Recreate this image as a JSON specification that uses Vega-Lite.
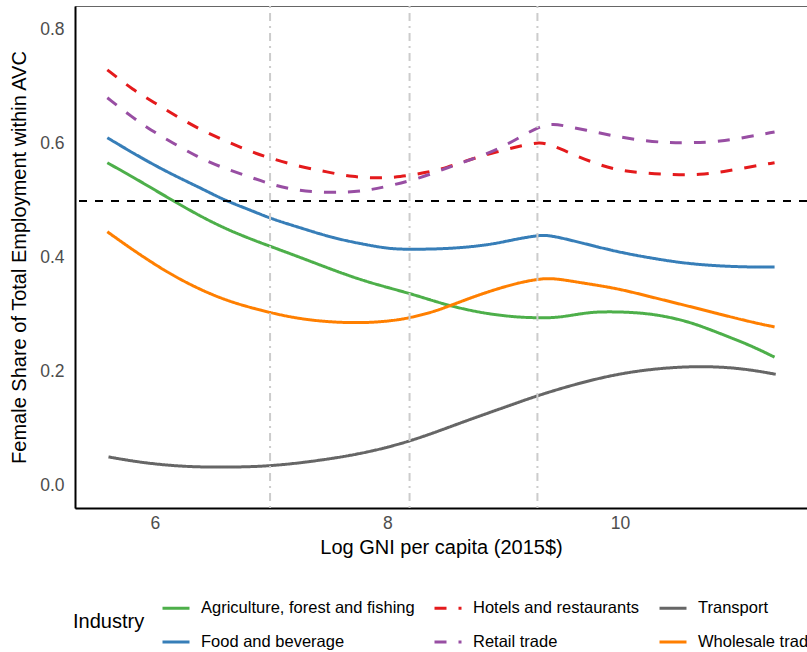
{
  "$schema": "https://vega.github.io/schema/vega-lite/v6.json",
  "autosize": {"type": "none"},
  "padding": {"left": 75, "top": 6, "right": 0, "bottom": 144},
  "width": 732,
  "height": 502,
  "background": "white",
  "config": {
    "font": "Liberation Sans",
    "view": {"stroke": "#666666", "strokeWidth": 1},
    "axis": {
      "grid": false,
      "ticks": false,
      "domainColor": "black",
      "domainWidth": 2,
      "labelFont": "Liberation Sans",
      "labelFontSize": 17.5,
      "labelColor": "#4d4d4d",
      "titleFont": "Liberation Sans",
      "titleFontSize": 20,
      "titleFontWeight": "normal",
      "titleColor": "black"
    },
    "legend": {
      "labelFont": "Liberation Sans",
      "labelFontSize": 16.5,
      "labelColor": "black",
      "labelLimit": 0,
      "titleFont": "Liberation Sans",
      "titleFontSize": 20,
      "titleFontWeight": "normal",
      "titleColor": "black"
    }
  },
  "datasets": {
    "curves": [
      {"industry": "Hotels and restaurants", "x": 5.59, "y": 0.730},
      {"industry": "Hotels and restaurants", "x": 5.81, "y": 0.695},
      {"industry": "Hotels and restaurants", "x": 6.0, "y": 0.672},
      {"industry": "Hotels and restaurants", "x": 6.19, "y": 0.648},
      {"industry": "Hotels and restaurants", "x": 6.39, "y": 0.625},
      {"industry": "Hotels and restaurants", "x": 6.59, "y": 0.607},
      {"industry": "Hotels and restaurants", "x": 6.79, "y": 0.589},
      {"industry": "Hotels and restaurants", "x": 6.99, "y": 0.575},
      {"industry": "Hotels and restaurants", "x": 7.25, "y": 0.560},
      {"industry": "Hotels and restaurants", "x": 7.48, "y": 0.551},
      {"industry": "Hotels and restaurants", "x": 7.70, "y": 0.542},
      {"industry": "Hotels and restaurants", "x": 7.91, "y": 0.540},
      {"industry": "Hotels and restaurants", "x": 8.11, "y": 0.542},
      {"industry": "Hotels and restaurants", "x": 8.31, "y": 0.549},
      {"industry": "Hotels and restaurants", "x": 8.51, "y": 0.558},
      {"industry": "Hotels and restaurants", "x": 8.74, "y": 0.575},
      {"industry": "Hotels and restaurants", "x": 8.94, "y": 0.586},
      {"industry": "Hotels and restaurants", "x": 9.17, "y": 0.598},
      {"industry": "Hotels and restaurants", "x": 9.31, "y": 0.603},
      {"industry": "Hotels and restaurants", "x": 9.40, "y": 0.599},
      {"industry": "Hotels and restaurants", "x": 9.57, "y": 0.584},
      {"industry": "Hotels and restaurants", "x": 9.77, "y": 0.567},
      {"industry": "Hotels and restaurants", "x": 9.97, "y": 0.554},
      {"industry": "Hotels and restaurants", "x": 10.20, "y": 0.549},
      {"industry": "Hotels and restaurants", "x": 10.46, "y": 0.546},
      {"industry": "Hotels and restaurants", "x": 10.69, "y": 0.546},
      {"industry": "Hotels and restaurants", "x": 10.89, "y": 0.551},
      {"industry": "Hotels and restaurants", "x": 11.12, "y": 0.560},
      {"industry": "Hotels and restaurants", "x": 11.33, "y": 0.567},

      {"industry": "Retail trade", "x": 5.59, "y": 0.681},
      {"industry": "Retail trade", "x": 5.81, "y": 0.646},
      {"industry": "Retail trade", "x": 5.96, "y": 0.625},
      {"industry": "Retail trade", "x": 6.15, "y": 0.602},
      {"industry": "Retail trade", "x": 6.37, "y": 0.577},
      {"industry": "Retail trade", "x": 6.56, "y": 0.560},
      {"industry": "Retail trade", "x": 6.76, "y": 0.546},
      {"industry": "Retail trade", "x": 6.97, "y": 0.531},
      {"industry": "Retail trade", "x": 7.19, "y": 0.519},
      {"industry": "Retail trade", "x": 7.42, "y": 0.515},
      {"industry": "Retail trade", "x": 7.65, "y": 0.515},
      {"industry": "Retail trade", "x": 7.85, "y": 0.519},
      {"industry": "Retail trade", "x": 8.05, "y": 0.528},
      {"industry": "Retail trade", "x": 8.28, "y": 0.540},
      {"industry": "Retail trade", "x": 8.51, "y": 0.558},
      {"industry": "Retail trade", "x": 8.71, "y": 0.572},
      {"industry": "Retail trade", "x": 8.94, "y": 0.589},
      {"industry": "Retail trade", "x": 9.14, "y": 0.612},
      {"industry": "Retail trade", "x": 9.31, "y": 0.631},
      {"industry": "Retail trade", "x": 9.42, "y": 0.636},
      {"industry": "Retail trade", "x": 9.57, "y": 0.630},
      {"industry": "Retail trade", "x": 9.83, "y": 0.619},
      {"industry": "Retail trade", "x": 10.0, "y": 0.612},
      {"industry": "Retail trade", "x": 10.23, "y": 0.605},
      {"industry": "Retail trade", "x": 10.43, "y": 0.602},
      {"industry": "Retail trade", "x": 10.63, "y": 0.602},
      {"industry": "Retail trade", "x": 10.86, "y": 0.604},
      {"industry": "Retail trade", "x": 11.09, "y": 0.612},
      {"industry": "Retail trade", "x": 11.33, "y": 0.621},

      {"industry": "Food and beverage", "x": 5.59, "y": 0.611},
      {"industry": "Food and beverage", "x": 5.81, "y": 0.584},
      {"industry": "Food and beverage", "x": 6.10, "y": 0.551},
      {"industry": "Food and beverage", "x": 6.39, "y": 0.523},
      {"industry": "Food and beverage", "x": 6.59, "y": 0.502},
      {"industry": "Food and beverage", "x": 6.82, "y": 0.484},
      {"industry": "Food and beverage", "x": 7.01, "y": 0.468},
      {"industry": "Food and beverage", "x": 7.25, "y": 0.453},
      {"industry": "Food and beverage", "x": 7.53, "y": 0.435},
      {"industry": "Food and beverage", "x": 7.82, "y": 0.423},
      {"industry": "Food and beverage", "x": 8.02, "y": 0.416},
      {"industry": "Food and beverage", "x": 8.19, "y": 0.415},
      {"industry": "Food and beverage", "x": 8.54, "y": 0.416},
      {"industry": "Food and beverage", "x": 8.88, "y": 0.423},
      {"industry": "Food and beverage", "x": 9.08, "y": 0.432},
      {"industry": "Food and beverage", "x": 9.30, "y": 0.440},
      {"industry": "Food and beverage", "x": 9.40, "y": 0.440},
      {"industry": "Food and beverage", "x": 9.68, "y": 0.426},
      {"industry": "Food and beverage", "x": 9.97, "y": 0.411},
      {"industry": "Food and beverage", "x": 10.26, "y": 0.400},
      {"industry": "Food and beverage", "x": 10.54, "y": 0.391},
      {"industry": "Food and beverage", "x": 10.83, "y": 0.386},
      {"industry": "Food and beverage", "x": 11.12, "y": 0.384},
      {"industry": "Food and beverage", "x": 11.33, "y": 0.384},

      {"industry": "Agriculture, forest and fishing", "x": 5.59, "y": 0.567},
      {"industry": "Agriculture, forest and fishing", "x": 5.81, "y": 0.542},
      {"industry": "Agriculture, forest and fishing", "x": 6.10, "y": 0.507},
      {"industry": "Agriculture, forest and fishing", "x": 6.39, "y": 0.473},
      {"industry": "Agriculture, forest and fishing", "x": 6.67, "y": 0.445},
      {"industry": "Agriculture, forest and fishing", "x": 7.01, "y": 0.419},
      {"industry": "Agriculture, forest and fishing", "x": 7.25, "y": 0.401},
      {"industry": "Agriculture, forest and fishing", "x": 7.53, "y": 0.379},
      {"industry": "Agriculture, forest and fishing", "x": 7.82, "y": 0.358},
      {"industry": "Agriculture, forest and fishing", "x": 8.19, "y": 0.338},
      {"industry": "Agriculture, forest and fishing", "x": 8.39, "y": 0.325},
      {"industry": "Agriculture, forest and fishing", "x": 8.56, "y": 0.315},
      {"industry": "Agriculture, forest and fishing", "x": 8.82, "y": 0.303},
      {"industry": "Agriculture, forest and fishing", "x": 9.11, "y": 0.296},
      {"industry": "Agriculture, forest and fishing", "x": 9.30, "y": 0.295},
      {"industry": "Agriculture, forest and fishing", "x": 9.46, "y": 0.295},
      {"industry": "Agriculture, forest and fishing", "x": 9.68, "y": 0.303},
      {"industry": "Agriculture, forest and fishing", "x": 9.83, "y": 0.306},
      {"industry": "Agriculture, forest and fishing", "x": 10.11, "y": 0.305},
      {"industry": "Agriculture, forest and fishing", "x": 10.34, "y": 0.300},
      {"industry": "Agriculture, forest and fishing", "x": 10.60, "y": 0.288},
      {"industry": "Agriculture, forest and fishing", "x": 10.83, "y": 0.270},
      {"industry": "Agriculture, forest and fishing", "x": 11.12, "y": 0.247},
      {"industry": "Agriculture, forest and fishing", "x": 11.33, "y": 0.226},

      {"industry": "Wholesale trade", "x": 5.59, "y": 0.446},
      {"industry": "Wholesale trade", "x": 5.81, "y": 0.414},
      {"industry": "Wholesale trade", "x": 6.10, "y": 0.375},
      {"industry": "Wholesale trade", "x": 6.39, "y": 0.344},
      {"industry": "Wholesale trade", "x": 6.67, "y": 0.321},
      {"industry": "Wholesale trade", "x": 7.01, "y": 0.303},
      {"industry": "Wholesale trade", "x": 7.25, "y": 0.293},
      {"industry": "Wholesale trade", "x": 7.53, "y": 0.287},
      {"industry": "Wholesale trade", "x": 7.82, "y": 0.286},
      {"industry": "Wholesale trade", "x": 8.05, "y": 0.290},
      {"industry": "Wholesale trade", "x": 8.19, "y": 0.295},
      {"industry": "Wholesale trade", "x": 8.39, "y": 0.305},
      {"industry": "Wholesale trade", "x": 8.56, "y": 0.318},
      {"industry": "Wholesale trade", "x": 8.82, "y": 0.338},
      {"industry": "Wholesale trade", "x": 9.11, "y": 0.356},
      {"industry": "Wholesale trade", "x": 9.30, "y": 0.363},
      {"industry": "Wholesale trade", "x": 9.42, "y": 0.365},
      {"industry": "Wholesale trade", "x": 9.68, "y": 0.356},
      {"industry": "Wholesale trade", "x": 9.97, "y": 0.347},
      {"industry": "Wholesale trade", "x": 10.26, "y": 0.332},
      {"industry": "Wholesale trade", "x": 10.54, "y": 0.318},
      {"industry": "Wholesale trade", "x": 10.83, "y": 0.303},
      {"industry": "Wholesale trade", "x": 11.12, "y": 0.288},
      {"industry": "Wholesale trade", "x": 11.33, "y": 0.279},

      {"industry": "Transport", "x": 5.60, "y": 0.051},
      {"industry": "Transport", "x": 5.91, "y": 0.040},
      {"industry": "Transport", "x": 6.30, "y": 0.033},
      {"industry": "Transport", "x": 6.69, "y": 0.033},
      {"industry": "Transport", "x": 7.02, "y": 0.035},
      {"industry": "Transport", "x": 7.47, "y": 0.046},
      {"industry": "Transport", "x": 7.86, "y": 0.060},
      {"industry": "Transport", "x": 8.24, "y": 0.081},
      {"industry": "Transport", "x": 8.63, "y": 0.111},
      {"industry": "Transport", "x": 9.02, "y": 0.139},
      {"industry": "Transport", "x": 9.35, "y": 0.163},
      {"industry": "Transport", "x": 9.80, "y": 0.189},
      {"industry": "Transport", "x": 10.19, "y": 0.204},
      {"industry": "Transport", "x": 10.65, "y": 0.211},
      {"industry": "Transport", "x": 11.04, "y": 0.207},
      {"industry": "Transport", "x": 11.34, "y": 0.196}
    ],
    "thresholds": [
      {"x": 6.99},
      {"x": 8.19},
      {"x": 9.29}
    ]
  },
  "layer": [
    {
      "data": {"name": "curves"},
      "mark": {"type": "line", "strokeWidth": 3, "interpolate": "basis", "strokeCap": "butt"},
      "encoding": {
        "x": {
          "field": "x", "type": "quantitative",
          "scale": {"domain": [5.312, 11.609], "nice": false, "zero": false},
          "axis": {"title": "Log GNI per capita (2015$)", "values": [6, 8, 10], "format": "d", "labelPadding": 6, "titlePadding": 6}
        },
        "y": {
          "field": "y", "type": "quantitative",
          "scale": {"domain": [-0.0386, 0.842], "nice": false, "zero": false},
          "axis": {"title": "Female Share of Total Employment within AVC", "values": [0, 0.2, 0.4, 0.6, 0.8], "format": ".1f", "labelPadding": 11, "titlePadding": 10}
        },
        "color": {
          "field": "industry", "type": "nominal",
          "scale": {
            "domain": ["Agriculture, forest and fishing", "Food and beverage", "Hotels and restaurants", "Retail trade", "Transport", "Wholesale trade"],
            "range": ["#4daf4a", "#377eb8", "#e41a1c", "#984ea3", "#666666", "#ff7f00"]
          },
          "legend": {
            "title": "Industry",
            "orient": "none",
            "legendX": -2,
            "legendY": 587,
            "columns": 3,
            "columnPadding": 13,
            "rowPadding": 10,
            "symbolType": "stroke",
            "symbolSize": 729,
            "symbolStrokeWidth": 3,
            "labelOffset": 10,
            "titleOrient": "left",
            "titleAnchor": "middle",
            "titleBaseline": "middle",
            "titlePadding": 16
          }
        },
        "strokeDash": {
          "field": "industry", "type": "nominal",
          "scale": {
            "domain": ["Agriculture, forest and fishing", "Food and beverage", "Hotels and restaurants", "Retail trade", "Transport", "Wholesale trade"],
            "range": [[1, 0], [1, 0], [12, 12], [12, 12], [1, 0], [1, 0]]
          },
          "legend": {
            "title": "Industry",
            "orient": "none",
            "legendX": -2,
            "legendY": 587,
            "columns": 3,
            "columnPadding": 13,
            "rowPadding": 10,
            "symbolType": "stroke",
            "symbolSize": 729,
            "symbolStrokeWidth": 3,
            "labelOffset": 10,
            "titleOrient": "left",
            "titleAnchor": "middle",
            "titleBaseline": "middle",
            "titlePadding": 16
          }
        },
        "detail": {"field": "industry"}
      }
    },
    {
      "data": {"name": "thresholds"},
      "mark": {"type": "rule", "color": "#cccccc", "strokeWidth": 2, "strokeDash": [2, 5, 8, 5]},
      "encoding": {
        "x": {"field": "x", "type": "quantitative"}
      }
    },
    {
      "data": {"values": [{"y": 0.5}]},
      "mark": {"type": "rule", "color": "black", "strokeWidth": 2, "strokeDash": [8, 8]},
      "encoding": {
        "y": {"field": "y", "type": "quantitative"}
      }
    }
  ]
}
